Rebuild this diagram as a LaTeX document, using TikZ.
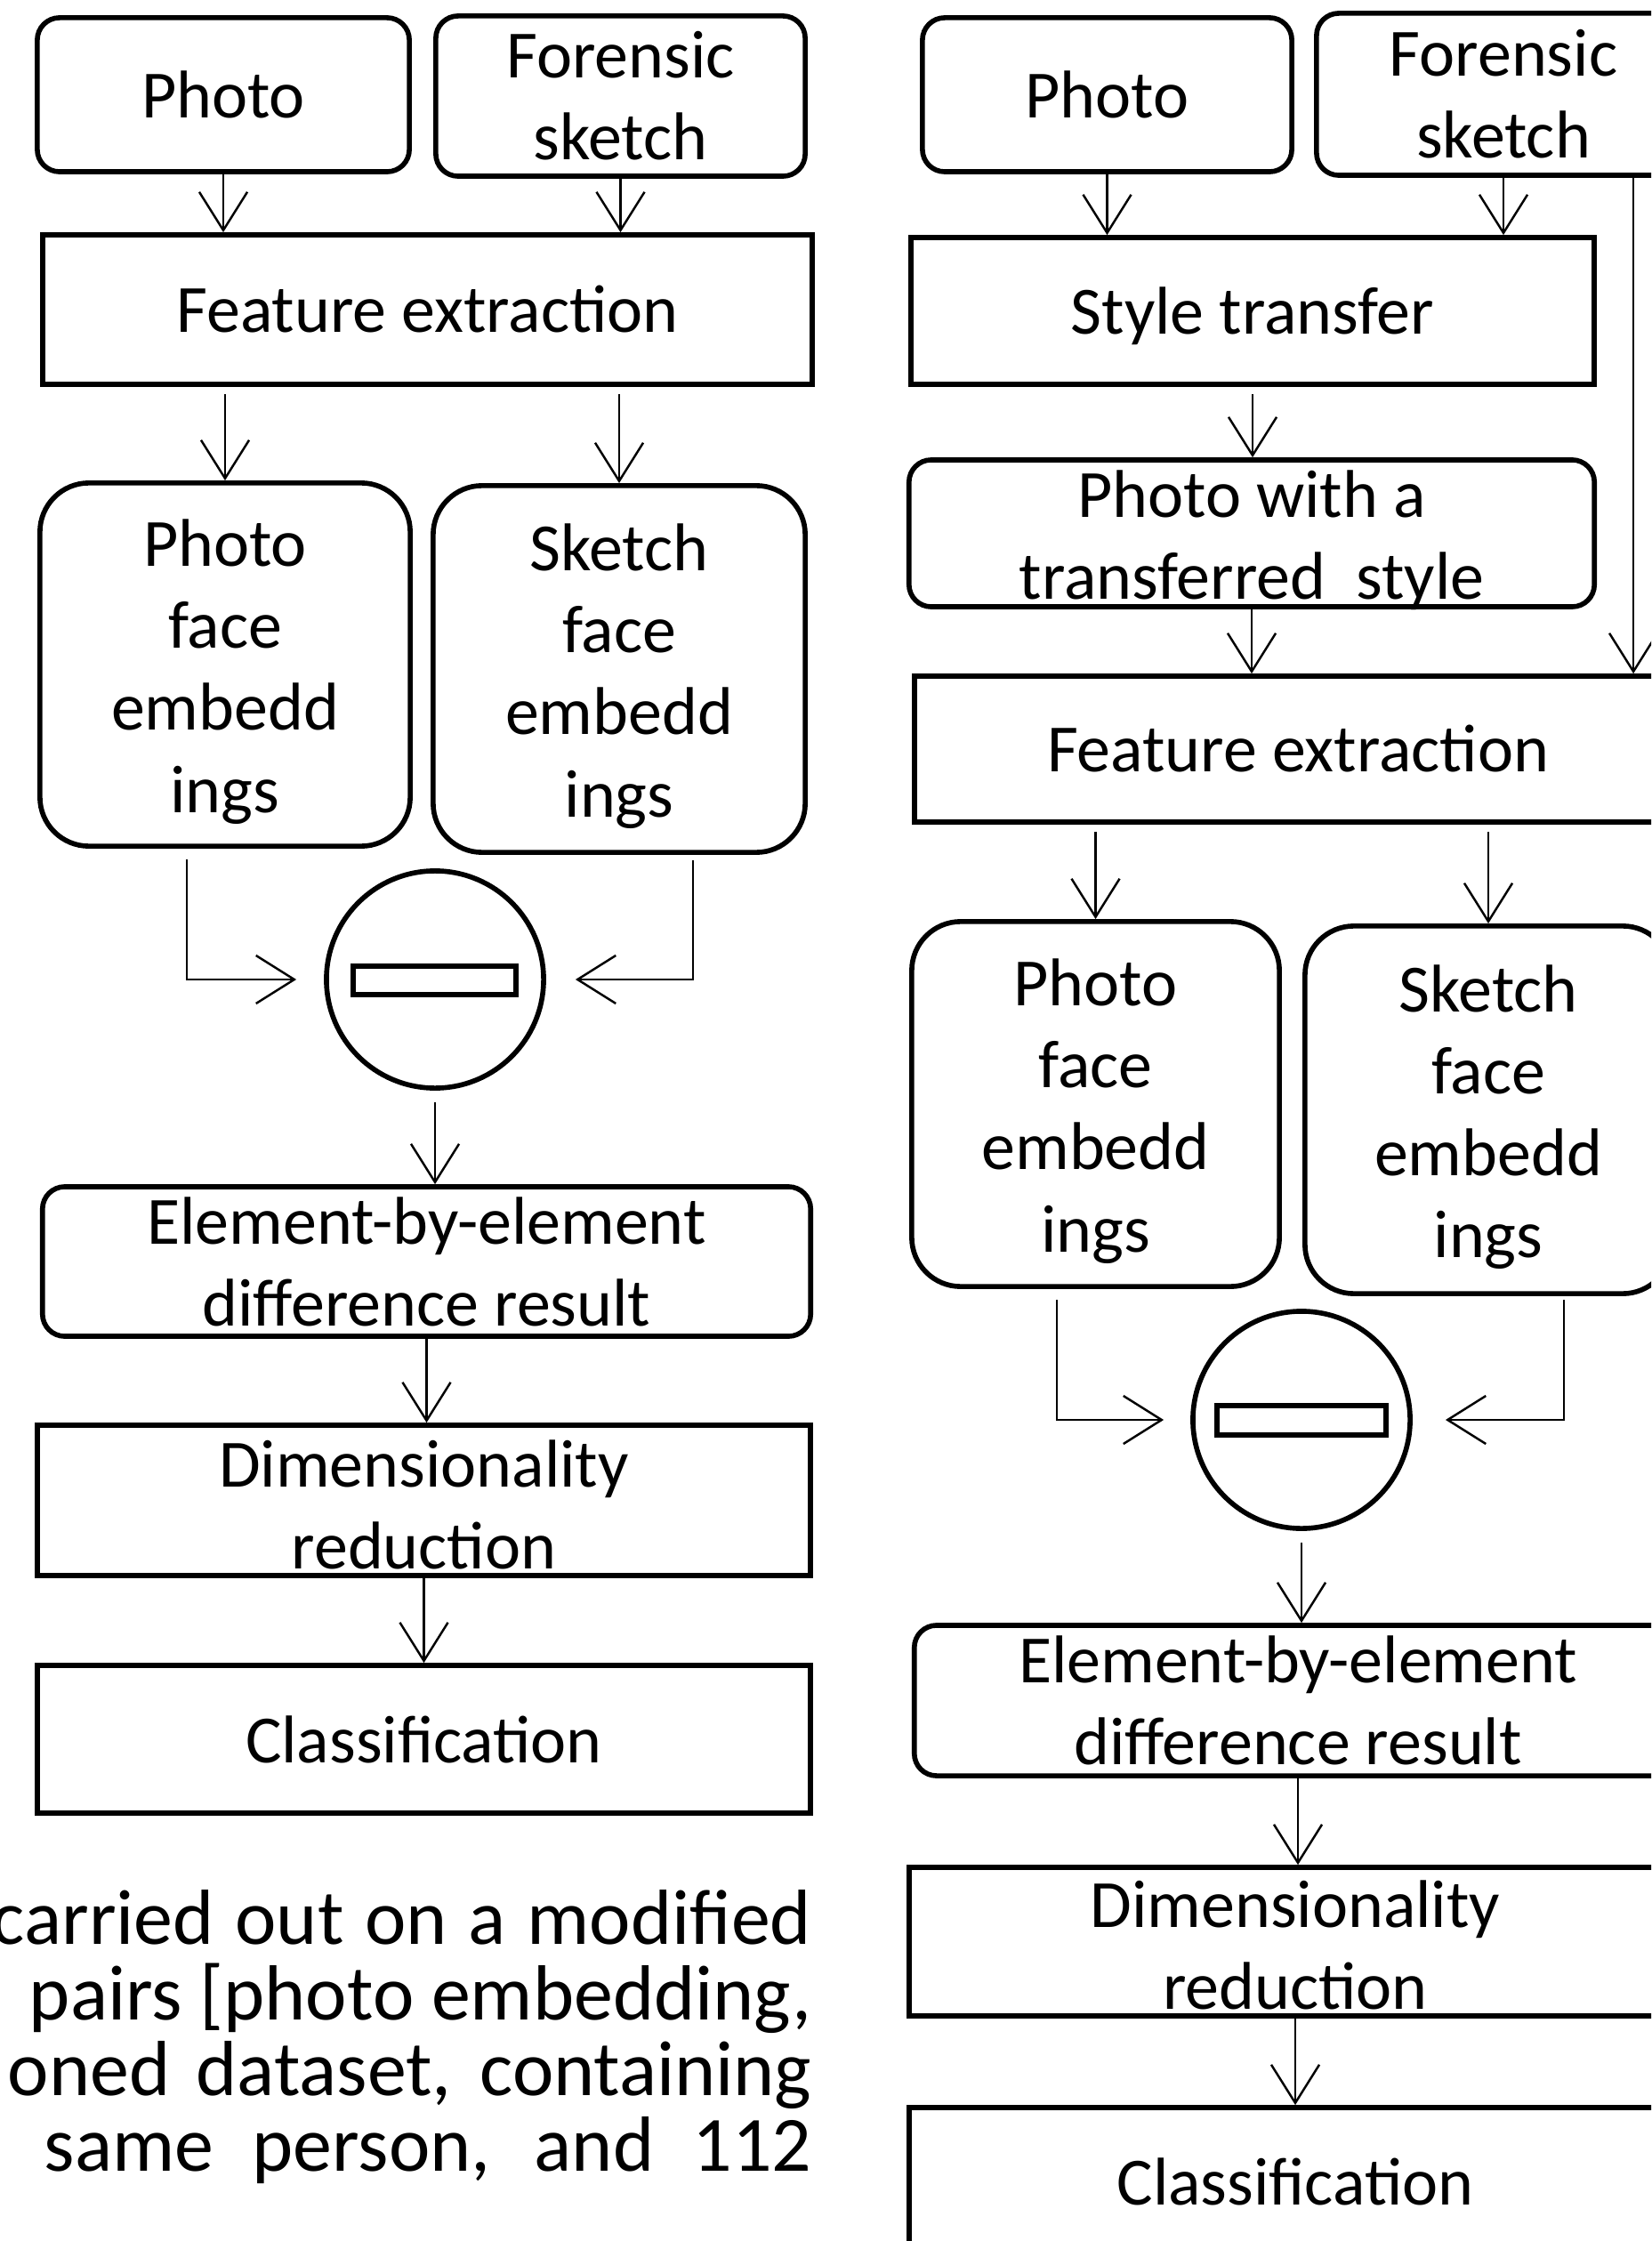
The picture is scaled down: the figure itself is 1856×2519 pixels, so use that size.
\documentclass[tikz,border=0pt]{standalone}
\usepackage{fontspec}
\setmainfont{Carlito}
\usetikzlibrary{arrows.meta}
\newcommand\diafont{\fontsize{21.6pt}{26.2pt}\selectfont}
\newcommand\parafont{\fontsize{25pt}{24.2pt}\selectfont}
\begin{document}
\begin{tikzpicture}[x=0.01cm, y=-0.01cm,
  box/.style={draw, line width=1.6pt, inner sep=0pt, align=center, font=\diafont},
  rbox/.style={box, rounded corners=2.5mm},
  ebox/.style={box, rounded corners=5.5mm},
  sbox/.style={box},
  lbl/.style={inner sep=0pt, align=center, font=\diafont},
  arr/.style={line width=0.7pt, -{Straight Barb[length=4.3mm, width=5.4mm]}},
  minuscirc/.style={draw, line width=1.6pt, fill=white, inner sep=0pt, circle, minimum size=24.4mm},
  bar/.style={draw, line width=1.6pt, fill=white, inner sep=0pt},
  para/.style={anchor=base east, inner sep=0pt, font=\parafont}
]
\clip (0,0) rectangle (1856,2519);
\fill[white] (0,0) rectangle (1856,2519);

% ---------------- left column ----------------
\node[rbox, minimum width=41.8mm, minimum height=17.3mm] (p1) at (251,106.5) {Photo};
\node[rbox, minimum width=41.5mm, minimum height=18mm] (s1) at (697.5,108) {Forensic\\sketch};
\node[sbox, minimum width=86.5mm, minimum height=16.8mm] (fe1) at (480.5,348) {Feature extraction};
\node[ebox, minimum width=41.6mm, minimum height=40.8mm] (pe1) at (253,747) {};
\node[lbl] (pe1t) at ([yshift=-0.8mm]pe1.center) {Photo\\face\\embedd\\ings};
\node[ebox, minimum width=41.8mm, minimum height=41.2mm] (se1) at (696,752) {};
\node[lbl] (se1t) at ([yshift=-0.8mm]se1.center) {Sketch\\face\\embedd\\ings};
\node[minuscirc] (c1) at (489,1101) {};
\node[bar, minimum width=18.3mm, minimum height=3.2mm] (bar1) at (488.5,1102) {};
\node[rbox, minimum width=86.3mm, minimum height=16.8mm] (ebe1) at (479.5,1418) {Element-by-element\\difference result};
\node[sbox, minimum width=86.9mm, minimum height=16.9mm] (dr1) at (476.5,1686.5) {};
\node[lbl] (dr1t) at ([yshift=-0.5mm]dr1.center) {Dimensionality\\reduction};
\node[sbox, minimum width=86.9mm, minimum height=16.6mm] (cl1) at (476.5,1955) {Classification};

\draw[arr] (p1.south) -- (p1.south |- fe1.north);
\draw[arr] (s1.south) -- (s1.south |- fe1.north);
\draw[arr] ([yshift=-0.8mm]fe1.south -| pe1.north) -- (pe1.north);
\draw[arr] ([yshift=-0.8mm]fe1.south -| se1.north) -- (se1.north);
\draw[arr] ([xshift=-4.3mm,yshift=-1.2mm]pe1.south) |- ([xshift=-3.1mm]c1.west);
\draw[arr] ([xshift=8.3mm,yshift=-0.6mm]se1.south) |- ([xshift=3.3mm]c1.east);
\draw[arr] ([yshift=-1.3mm]c1.south) -- (c1.south |- ebe1.north);
\draw[arr] (ebe1.south) -- (ebe1.south |- dr1.north);
\draw[arr] (dr1.south) -- (dr1.south |- cl1.north);

% ---------------- paragraph ----------------
\node[para] (t1) at (913,2185) {\makebox[92.1mm][s]{carried out on a modified}};
\node[para] (t2) at (913,2270) {pairs [photo embedding,};
\node[para] (t3) at (913,2355) {\makebox[90.3mm][s]{oned dataset, containing}};
\node[para] (t4) at (913,2440) {\makebox[86.2mm][s]{same person, and 112}};

% ---------------- right column ----------------
\node[rbox, minimum width=41.5mm, minimum height=17.3mm] (p2) at (1244.5,106.5) {Photo};
\node[rbox, minimum width=42mm, minimum height=18.2mm] (s2) at (1690,106) {Forensic\\sketch};
\node[sbox, minimum width=76.8mm, minimum height=16.5mm] (st2) at (1408,349.5) {};
\node[lbl] (st2t) at ([yshift=-0.6mm]st2.center) {Style transfer};
\node[rbox, minimum width=77mm, minimum height=16.5mm] (pt2) at (1407,599.5) {};
\node[lbl] (pt2t) at ([yshift=-0.8mm]pt2.center) {Photo with a\\transferred\ \ style};
\node[sbox, minimum width=86.2mm, minimum height=16.4mm] (fe2) at (1459,842) {Feature extraction};
\node[ebox, minimum width=41.3mm, minimum height=41mm] (pe2) at (1231.5,1241) {};
\node[lbl] (pe2t) at ([yshift=-0.8mm]pe2.center) {Photo\\face\\embedd\\ings};
\node[ebox, minimum width=41.2mm, minimum height=41.3mm] (se2) at (1673,1247.5) {};
\node[lbl] (se2t) at ([yshift=-0.8mm]se2.center) {Sketch\\face\\embedd\\ings};
\node[minuscirc] (c2) at (1463,1596) {};
\node[bar, minimum width=19mm, minimum height=3.3mm] (bar2) at (1463,1596.5) {};
\node[rbox, minimum width=86.2mm, minimum height=16.9mm] (ebe2) at (1459,1911.5) {Element-by-element\\difference result};
\node[sbox, minimum width=86.8mm, minimum height=16.7mm] (dr2) at (1456,2182.5) {};
\node[lbl] (dr2t) at ([yshift=-0.4mm]dr2.center) {Dimensionality\\reduction};
\node[sbox, minimum width=86.8mm, minimum height=16.6mm] (cl2) at (1456,2452) {Classification};

\draw[arr] (p2.south) -- (p2.south |- st2.north);
\draw[arr] (s2.south) -- (s2.south |- st2.north);
\draw[arr] ([xshift=14.6mm]s2.south) -- ([xshift=14.6mm]s2.south |- fe2.north);
\draw[arr] ([yshift=-0.8mm]st2.south) -- (st2.south |- pt2.north);
\draw[arr] (pt2.south) -- (pt2.south |- fe2.north);
\draw[arr] ([yshift=-0.8mm]fe2.south -| pe2.north) -- (pe2.north);
\draw[arr] ([yshift=-0.8mm]fe2.south -| se2.north) -- (se2.north);
\draw[arr] ([xshift=-4.35mm,yshift=-1.2mm]pe2.south) |- ([xshift=-3mm]c2.west);
\draw[arr] ([xshift=8.5mm,yshift=-0.4mm]se2.south) |- ([xshift=3.7mm]c2.east);
\draw[arr] ([yshift=-1.3mm]c2.south) -- (c2.south |- ebe2.north);
\draw[arr] (ebe2.south) -- (ebe2.south |- dr2.north);
\draw[arr] (dr2.south) -- (dr2.south |- cl2.north);
\end{tikzpicture}
\end{document}
